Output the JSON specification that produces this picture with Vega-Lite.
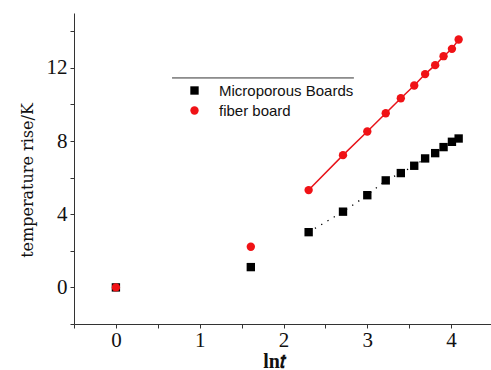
{
  "$schema": "https://vega.github.io/schema/vega-lite/v6.json",
  "autosize": "none",
  "width": 419,
  "height": 311,
  "padding": {"left": 74, "top": 13, "right": 0, "bottom": 46},
  "background": "white",
  "config": {
    "view": {"stroke": null},
    "axis": {
      "grid": false,
      "domainColor": "#333333",
      "tickColor": "#333333",
      "tickSize": 4,
      "labelFont": "Liberation Serif",
      "labelFontSize": 21,
      "labelColor": "#111111",
      "titleFont": "DejaVu Serif",
      "titleFontSize": 16,
      "titleFontWeight": "normal",
      "titleColor": "#111111"
    }
  },
  "datasets": {
    "pts": [
      {"lnt": 0, "rise": 0, "series": "Microporous Boards"},
      {"lnt": 1.61, "rise": 1.11, "series": "Microporous Boards"},
      {"lnt": 2.30, "rise": 3.02, "series": "Microporous Boards"},
      {"lnt": 2.71, "rise": 4.14, "series": "Microporous Boards"},
      {"lnt": 3.00, "rise": 5.04, "series": "Microporous Boards"},
      {"lnt": 3.22, "rise": 5.85, "series": "Microporous Boards"},
      {"lnt": 3.40, "rise": 6.25, "series": "Microporous Boards"},
      {"lnt": 3.56, "rise": 6.65, "series": "Microporous Boards"},
      {"lnt": 3.69, "rise": 7.05, "series": "Microporous Boards"},
      {"lnt": 3.81, "rise": 7.34, "series": "Microporous Boards"},
      {"lnt": 3.91, "rise": 7.67, "series": "Microporous Boards"},
      {"lnt": 4.01, "rise": 7.96, "series": "Microporous Boards"},
      {"lnt": 4.09, "rise": 8.14, "series": "Microporous Boards"},
      {"lnt": 0, "rise": 0, "series": "fiber board"},
      {"lnt": 1.61, "rise": 2.22, "series": "fiber board"},
      {"lnt": 2.30, "rise": 5.32, "series": "fiber board"},
      {"lnt": 2.71, "rise": 7.23, "series": "fiber board"},
      {"lnt": 3.00, "rise": 8.52, "series": "fiber board"},
      {"lnt": 3.22, "rise": 9.52, "series": "fiber board"},
      {"lnt": 3.40, "rise": 10.34, "series": "fiber board"},
      {"lnt": 3.56, "rise": 11.04, "series": "fiber board"},
      {"lnt": 3.69, "rise": 11.66, "series": "fiber board"},
      {"lnt": 3.81, "rise": 12.15, "series": "fiber board"},
      {"lnt": 3.91, "rise": 12.64, "series": "fiber board"},
      {"lnt": 4.01, "rise": 13.04, "series": "fiber board"},
      {"lnt": 4.09, "rise": 13.55, "series": "fiber board"}
    ],
    "legendline": [
      {"x1": 0.67, "x2": 2.84, "y": 11.45}
    ]
  },
  "encoding": {
    "x": {
      "field": "lnt", "type": "quantitative",
      "scale": {"domain": [-0.5, 4.5], "nice": false, "zero": false},
      "axis": {
        "title": "ln𝑡",
        "values": [-0.5, 0, 0.5, 1, 1.5, 2, 2.5, 3, 3.5, 4, 4.5],
        "labelExpr": "datum.value % 1 == 0 ? format(datum.value, 'd') : ''",
        "labelPadding": 1,
        "titleFont": "Liberation Serif",
        "titleFontSize": 20,
        "titleFontWeight": "bold",
        "titleX": 200,
        "titleY": 43,
        "titleBaseline": "alphabetic"
      }
    },
    "y": {
      "field": "rise", "type": "quantitative",
      "scale": {"domain": [-2, 15], "nice": false, "zero": false},
      "axis": {
        "title": "temperature rise/K",
        "values": [-2, 0, 2, 4, 6, 8, 10, 12, 14],
        "labelExpr": "datum.value % 4 == 0 ? datum.label : ''",
        "labelPadding": 3,
        "titlePadding": 11,
        "titleY": 167
      }
    }
  },
  "layer": [
    {
      "data": {"name": "pts"},
      "transform": [{"filter": "datum.lnt > 2 && datum.series == 'fiber board'"}],
      "mark": {"type": "line", "color": "#e8141b", "strokeWidth": 1.5}
    },
    {
      "data": {"name": "pts"},
      "transform": [{"filter": "datum.lnt > 2 && datum.series == 'Microporous Boards'"}],
      "mark": {"type": "line", "color": "#000000", "strokeWidth": 1.3, "strokeDash": [1.3, 6]}
    },
    {
      "data": {"name": "legendline"},
      "mark": {"type": "rule", "color": "#333333", "strokeWidth": 1},
      "encoding": {
        "x": {"field": "x1", "type": "quantitative"},
        "x2": {"field": "x2"},
        "y": {"field": "y", "type": "quantitative"}
      }
    },
    {
      "data": {"name": "pts"},
      "mark": {"type": "point", "filled": true, "opacity": 1, "size": 70},
      "encoding": {
        "color": {
          "field": "series", "type": "nominal",
          "scale": {"domain": ["Microporous Boards", "fiber board"], "range": ["#000000", "#f01216"]},
          "legend": {
            "title": null,
            "orient": "none",
            "legendX": 113,
            "legendY": 70,
            "padding": 0,
            "labelFont": "Liberation Sans",
            "labelFontSize": 15,
            "labelColor": "#111111",
            "labelOffset": 17,
            "rowPadding": 4,
            "symbolSize": 70
          }
        },
        "shape": {
          "field": "series", "type": "nominal",
          "scale": {"domain": ["Microporous Boards", "fiber board"], "range": ["square", "circle"]}
        },
        "order": {"field": "series", "sort": "ascending"}
      }
    }
  ]
}
